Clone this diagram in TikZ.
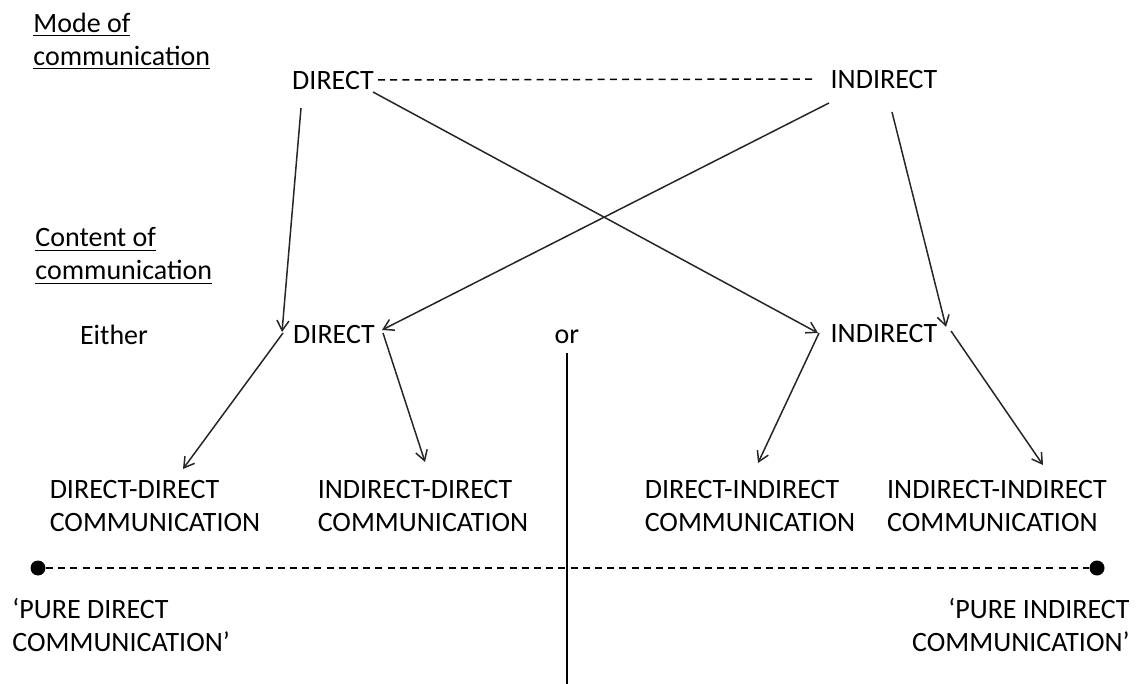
\documentclass[tikz,border=0pt]{standalone}
\usepackage{fontspec}
\setmainfont{Carlito}
\usetikzlibrary{arrows.meta}

\begin{document}
\begin{tikzpicture}[x=0.5pt,y=-0.5pt] 
		\begin{scope}[scale=1]
		
		\tikzstyle{mytext}=[
		inner sep=0pt,
		text=black,
		font=\fontsize{14pt}{16.5pt}\selectfont
		]
		\tikzstyle{myarrow}=[
		-{Straight Barb[length=5pt,width=6pt]},
		line width=0.75pt,
		draw=black!85
		]
		\tikzstyle{mydash}=[
		line width=0.75pt,
		dash pattern=on 3.5pt off 2.6pt
		]
		\tikzstyle{mydot}=[circle,
		fill=black,
		inner sep=0pt,
		minimum size=7.5pt
		]
		
		\useasboundingbox (0,0) rectangle (1141,684);
		
		\coordinate (pmode) at (33, 41);
		\coordinate (pcont) at (35, 256);
		\coordinate (pm1) at (333, 81);
		\coordinate (pm2) at (884, 80);
		\coordinate (pc1) at (334, 335);
		\coordinate (pc2) at (884, 334);
		\coordinate (peither) at (114, 335);
		\coordinate (por) at (567, 337);
		\coordinate (pdd) at (155, 506);
		\coordinate (pid) at (423, 506);
		\coordinate (pdi) at (750, 506);
		\coordinate (pii) at (997, 506);
		\coordinate (ppd) at (12, 625);
		\coordinate (ppi) at (1130, 625);
		
		\node[mytext, anchor=west, align=left] (mode) at (pmode) {\underline{Mode of}\\\underline{communication}};
		\node[mytext, anchor=west, align=left] (cont) at (pcont) {\underline{Content of}\\\underline{communication}};
		
		\node[mytext] (m1) at (pm1) {DIRECT};
		\node[mytext] (m2) at (pm2) {INDIRECT};
		\node[mytext] (either) at (peither) {Either};
		\node[mytext] (c1) at (pc1) {DIRECT};
		\node[mytext] (or) at (por) {or};
		\node[mytext] (c2) at (pc2) {INDIRECT};
		
		\node[mytext, align=left] (dd) at (pdd) {DIRECT-DIRECT\\COMMUNICATION};
		\node[mytext, align=left] (id) at (pid) {INDIRECT-DIRECT\\COMMUNICATION};
		\node[mytext, align=left] (di) at (pdi) {DIRECT-INDIRECT\\COMMUNICATION};
		\node[mytext, align=left] (ii) at (pii) {INDIRECT-INDIRECT\\COMMUNICATION};
		
		\node[mydot] (dot1) at (38, 568) {};
		\node[mydot] (dot2) at (1097, 568) {};
		\node[mytext, anchor=west, align=left] (pd) at (ppd) {‘PURE DIRECT\\COMMUNICATION’};
		\node[mytext, anchor=east, align=right] (pi) at (ppi) {‘PURE INDIRECT\\COMMUNICATION’};
		\coordinate (base) at (567, 684);
		
		\draw[mydash] ([shift={(45,-1)}]m1.center) -- ([shift={(-69,-1)}]m2.center);
		\draw[mydash] (dot1) -- (dot2);
		\draw[line width=0.75pt] ([yshift=-4.5pt]or.south) -- (base);
		
		\draw[myarrow] ([shift={(-32,27)}]m1.center) -- ([shift={(-52,-3)}]c1.center);
		\draw[myarrow] ([shift={(40,11)}]m1.center) -- ([shift={(-66,-1)}]c2.center);
		\draw[myarrow] ([shift={(-55,23)}]m2.center) -- ([shift={(48,-5)}]c1.center);
		\draw[myarrow] ([shift={(8,32)}]m2.center) -- ([shift={(62,-7)}]c2.center);
		
		\draw[myarrow] ([shift={(-51,-2)}]c1.center) -- ([shift={(28,-37)}]dd.center);
		\draw[myarrow] ([shift={(49,-2)}]c1.center) -- ([shift={(2,-44)}]id.center);
		\draw[myarrow] ([shift={(-65,-1)}]c2.center) -- ([shift={(8,-43)}]di.center);
		\draw[myarrow] ([shift={(67,-3)}]c2.center) -- ([shift={(46,-41)}]ii.center);
		
		\end{scope}
		\end{tikzpicture}
\end{document}
